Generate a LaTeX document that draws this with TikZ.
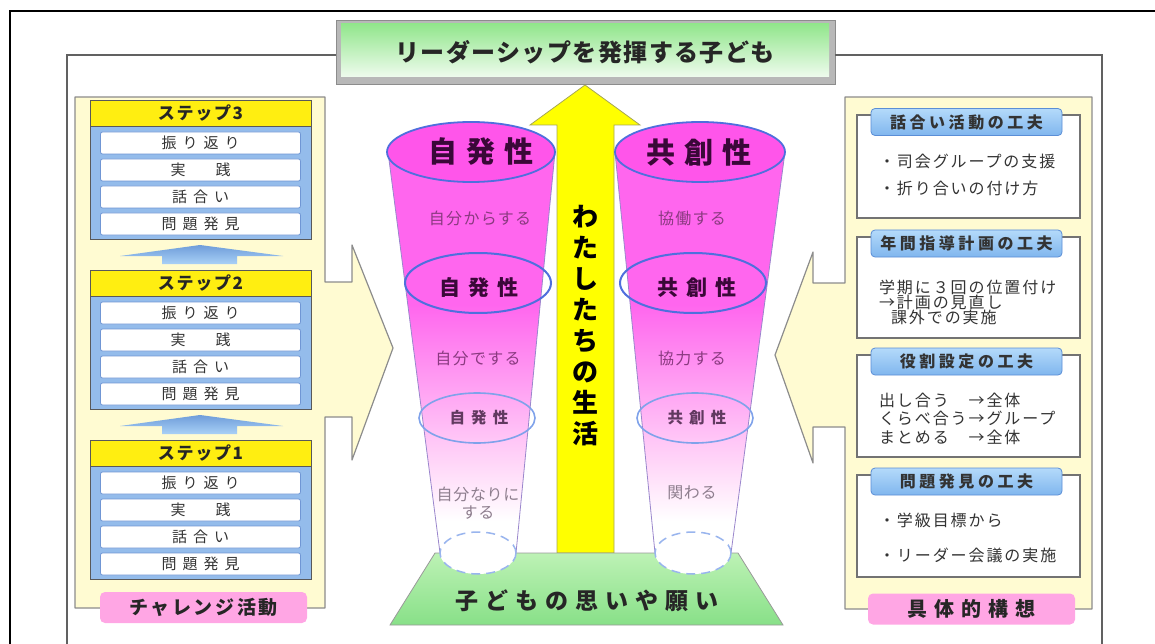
\documentclass[tikz,border=0pt]{standalone}
\usepackage{fontspec}
\setmainfont{Noto Sans CJK JP}
\usetikzlibrary{shapes.geometric}
\definecolor{cream}{HTML}{FFFBD2}
\definecolor{panelline}{HTML}{8C8C8C}
\definecolor{stepyellow}{HTML}{FFEE11}
\definecolor{stepblue}{HTML}{94BCEB}
\definecolor{rowline}{HTML}{7096D4}
\definecolor{hdrtop}{HTML}{B4DAFA}
\definecolor{hdrbot}{HTML}{80B6EE}
\definecolor{hdrline}{HTML}{5B8ED6}
\definecolor{cupmag}{HTML}{FF66EE}
\definecolor{cupa}{HTML}{FFDDF9}
\definecolor{cupb}{HTML}{FFB6F5}
\definecolor{cupc}{HTML}{FF8EF1}
\definecolor{cuptopfill}{HTML}{FF55EA}
\definecolor{cupline}{HTML}{4F6FDD}
\definecolor{cupline2}{HTML}{7FA2EA}
\definecolor{cupside}{HTML}{9A86CC}
\definecolor{arrowyel}{HTML}{FFFF00}
\definecolor{arrowedge}{HTML}{A6A655}
\definecolor{basetop}{HTML}{BDF2B5}
\definecolor{basemid}{HTML}{F2FFF0}
\definecolor{basebot}{HTML}{88E088}
\definecolor{pinklab}{HTML}{FFA6E4}
\definecolor{titlegreen}{HTML}{92E68C}
\definecolor{titlelight}{HTML}{F2FCF0}
\definecolor{arrtop}{HTML}{6E9DDA}
\definecolor{arrbot}{HTML}{A9D0F6}
\definecolor{txtdark}{HTML}{333333}
\definecolor{cuptext}{HTML}{3A0838}
\definecolor{cupsmall}{HTML}{8A3A80}
\definecolor{cupfaint}{HTML}{8E7E8E}
\pgfdeclareverticalshading{cupshade}{100bp}{color(0bp)=(white); color(29bp)=(white); color(35bp)=(cupa); color(42bp)=(cupb); color(49bp)=(cupc); color(56bp)=(cupmag); color(100bp)=(cupmag)}
\newcommand{\fs}[2]{\fontsize{#1}{#1}\selectfont\addfontfeature{LetterSpace=#2}}
\newcommand{\stepblock}[3]{%
  \node[stephead] (#1h) at (200.5,#2+13) {#3};
  \node[stepbody] (#1b) at (200.5,#2+26+56.5) {};
  \node[steprow] (#1r1) at (200.5,#2+26+17) {振り返り};
  \node[steprow] (#1r2) at (200.5,#2+26+44) {実\hspace{30pt}践};
  \node[steprow] (#1r3) at (200.5,#2+26+71) {話合い};
  \node[steprow] (#1r4) at (200.5,#2+26+98) {問題発見};
}
\newcommand{\uparr}[1]{%
  \shade[top color=arrtop, bottom color=arrbot] (162,#1+19) -- (162,#1+11) -- (120,#1+11) -- (200,#1) -- (283,#1+11) -- (237,#1+11) -- (237,#1+19) -- cycle;
}
\begin{document}
\begin{tikzpicture}[x=1pt,y=-1pt,
  every node/.style={inner sep=0pt, outer sep=0pt},
  frameline/.style={draw=black!62, line width=1.4pt},
  panel/.style={fill=cream, draw=panelline, line width=1.2pt, line join=round},
  stephead/.style={rectangle, fill=stepyellow, draw=black!65, line width=0.9pt, minimum width=221pt, minimum height=26pt, font=\bfseries\fs{17}{10}, text=black!85},
  stepbody/.style={rectangle, fill=stepblue, draw=black!65, line width=0.9pt, minimum width=221pt, minimum height=113pt},
  steprow/.style={rectangle, rounded corners=2pt, fill=white, draw=rowline, line width=0.8pt, minimum width=200pt, minimum height=22pt, font=\fs{15}{40}, text=txtdark},
  rbox/.style={rectangle, fill=white, draw=black!55, line width=1.1pt, minimum width=223pt, anchor=north west},
  rhead/.style={rectangle, rounded corners=4pt, top color=hdrtop, bottom color=hdrbot, draw=hdrline, line width=0.8pt, minimum width=191pt, minimum height=27pt, font=\bfseries\fs{16}{22}, text=txtdark},
  rtext/.style={anchor=west, font=\fs{16}{12}, text=txtdark},
  pinklabel/.style={rectangle, rounded corners=5pt, top color=pinklab, middle color=white, bottom color=pinklab, minimum width=207pt, minimum height=31pt, text=black!85},
  cuptop/.style={ellipse, fill=cuptopfill, draw=cupline, line width=1.8pt},
  cupmid/.style={ellipse, draw=cupline, line width=2pt},
  cuplow/.style={ellipse, draw=cupline2, line width=1.6pt},
  cupbot/.style={ellipse, fill=white, draw=cupline2!80, line width=1.5pt, dash pattern=on 9pt off 6pt},
  cupsmalltext/.style={font=\fs{16}{8}, text=cupsmall},
]
\useasboundingbox (0,0) rectangle (1155,644);
% outer frame
\draw[line width=2pt] (10,645) -- (10,11) -- (1156,11);
% title box
\node[rectangle, fill=black!28, draw=black!45, line width=0.8pt, minimum width=499pt, minimum height=64pt] (titlebox) at (585.5,52) {};
\shade[top color=titlegreen, middle color=titlelight, bottom color=white!85!titlegreen] (341,24) rectangle (829,77);
\node[font=\bfseries\fs{24}{6}, text=black!85] (title) at (585,52) {リーダーシップを発揮する子ども};
% inner frame
\draw[frameline] (67,645) -- (67,55) -- (titlebox.west |- 0,55);
\draw[frameline] (titlebox.east |- 0,55) -- (1102,55) -- (1102,645);
% left panel
\path[panel] (75,97) -- (325,97) -- (325,282) -- (352,282) -- (352,245) -- (393,348) -- (352,460) -- (352,417) -- (325,417) -- (325,608) -- (75,608) -- cycle;
% right panel
\path[panel] (845,97) -- (1092,97) -- (1092,609) -- (845,609) -- (845,427) -- (813,427) -- (813,463) -- (775,355) -- (813,252) -- (813,283) -- (845,283) -- cycle;
% steps
\stepblock{sA}{100}{ステップ3}
\uparr{245}
\stepblock{sB}{270}{ステップ2}
\uparr{415}
\stepblock{sC}{440}{ステップ1}
\node[pinklabel, font=\bfseries\fs{19}{14}] (challenge) at (203.5,607.5) {チャレンジ活動};
% right boxes
\node[rbox, minimum height=103pt] (rb1) at (857,115) {};
\node[rhead] (rh1) at (966.5,122) {話合い活動の工夫};
\node[rtext] (t11) at (879,161) {・司会グループの支援};
\node[rtext] (t12) at (879,188) {・折り合いの付け方};
\node[rbox, minimum height=101pt] (rb2) at (857,237) {};
\node[rhead] (rh2) at (966.5,243.5) {年間指導計画の工夫};
\node[rtext] (t21) at (879,287) {学期に３回の位置付け};
\node[rtext] (t22) at (879,302) {→計画の見直し};
\node[rtext] (t23) at (879,317) {\hspace{12pt}課外での実施};
\node[rbox, minimum height=102pt] (rb3) at (857,355) {};
\node[rhead] (rh3) at (966.5,361.5) {役割設定の工夫};
\node[rtext] (t31) at (879,400) {出し合う　→全体};
\node[rtext] (t32) at (879,418.5) {くらべ合う→グループ};
\node[rtext] (t33) at (879,437) {まとめる　→全体};
\node[rbox, minimum height=102pt] (rb4) at (857,475) {};
\node[rhead] (rh4) at (966.5,481.5) {問題発見の工夫};
\node[rtext] (t41) at (879,520) {・学級目標から};
\node[rtext] (t42) at (879,555) {・リーダー会議の実施};
\node[pinklabel, font=\bfseries\fs{20}{35}] (plan) at (971.5,609) {具体的構想};
% yellow arrow
\path[fill=arrowyel, draw=arrowedge, line width=0.8pt] (557,553) -- (557,125) -- (530,125) -- (585,85) -- (640,125) -- (614,125) -- (614,553) -- cycle;
\node[font=\bfseries\fontsize{26}{31}\selectfont, align=center, text=black] (life) at (585.5,326) {わ\\た\\し\\た\\ち\\の\\生\\活};
% green base
\path[top color=basetop, middle color=basemid, bottom color=basebot, draw=black!40, line width=0.8pt] (435,553) -- (738,553) -- (783,625) -- (390,625) -- cycle;
\node[font=\bfseries\fs{23}{30}, text=black!85] (wish) at (587,601) {子どもの思いや願い};
% left cup
\shade[shading=cupshade] (388,152) -- (440,553) -- (516,553) -- (555,152) -- cycle;
\draw[cupside, line width=0.8pt] (388,152) -- (440,553);
\draw[cupside, line width=0.8pt] (555,152) -- (516,553);
\node[cupbot, minimum width=76pt, minimum height=42pt] (lbot) at (478,553) {};
\node[cuptop, minimum width=168pt, minimum height=60pt] (ltop) at (471,152) {};
\node[cupmid, minimum width=146pt, minimum height=60pt] (lmid) at (478,283) {};
\node[cuplow, minimum width=116pt, minimum height=50pt] (llow) at (477,418) {};
\node[font=\bfseries\fs{29}{30}, text=cuptext] (lt1) at (481,152) {自発性};
\node[cupsmalltext] (lt2) at (480,218) {自分からする};
\node[font=\bfseries\fs{21}{38}, text=cuptext] (lt3) at (479,288) {自発性};
\node[cupsmalltext] (lt4) at (478,358) {自分でする};
\node[font=\bfseries\fs{15.5}{40}, text=cuptext!80] (lt5) at (479,418) {自発性};
\node[font=\fs{16}{4}, text=cupfaint, align=center] (lt6) at (478,503) {自分なりに\\[2pt]する};
% right cup
\shade[shading=cupshade] (615,152) -- (655,553) -- (731,553) -- (785,152) -- cycle;
\draw[cupside, line width=0.8pt] (615,152) -- (655,553);
\draw[cupside, line width=0.8pt] (785,152) -- (731,553);
\node[cupbot, minimum width=76pt, minimum height=42pt] (rbot) at (693,553) {};
\node[cuptop, minimum width=170pt, minimum height=60pt] (rtop) at (700,152) {};
\node[cupmid, minimum width=146pt, minimum height=60pt] (rmid) at (693,283) {};
\node[cuplow, minimum width=116pt, minimum height=50pt] (rlow) at (695,418) {};
\node[font=\bfseries\fs{29}{30}, text=cuptext] (rt1) at (699,152) {共創性};
\node[cupsmalltext] (rt2) at (692,218) {協働する};
\node[font=\bfseries\fs{21}{38}, text=cuptext] (rt3) at (697,288) {共創性};
\node[cupsmalltext] (rt4) at (692,358) {協力する};
\node[font=\bfseries\fs{15.5}{40}, text=cuptext!80] (rt5) at (697,418) {共創性};
\node[font=\fs{16}{4}, text=cupfaint] (rt6) at (692,493) {関わる};
\end{tikzpicture}
\end{document}
